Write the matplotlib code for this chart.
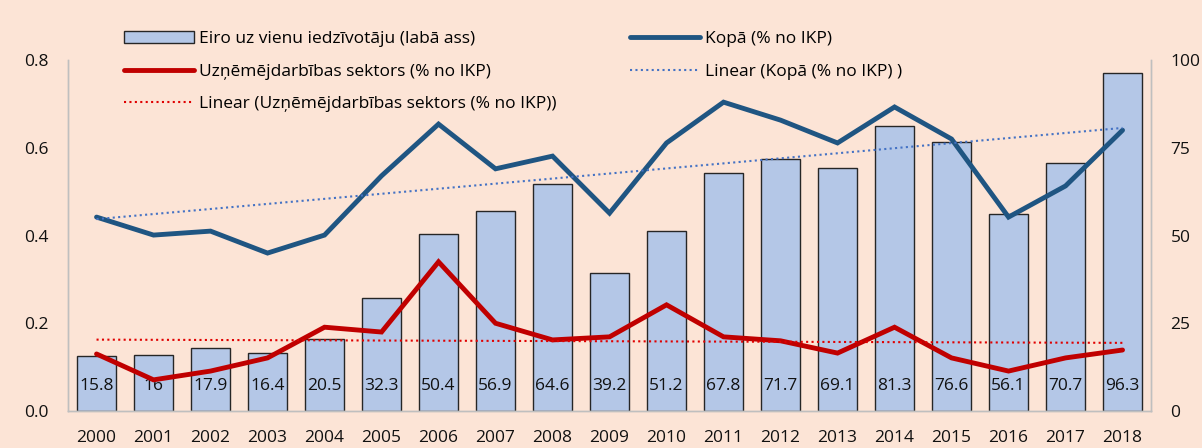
import matplotlib.pyplot as plt
import numpy as np

plt.rcParams["font.family"] = ["Open Sans", "DejaVu Sans"]

YEARS = list(range(2000, 2019))
EUR_PER_CAPITA = [15.8, 16, 17.9, 16.4, 20.5, 32.3, 50.4, 56.9, 64.6, 39.2,
                  51.2, 67.8, 71.7, 69.1, 81.3, 76.6, 56.1, 70.7, 96.3]
TOTAL_GDP = [0.442, 0.401, 0.410, 0.360, 0.401, 0.536, 0.654, 0.552, 0.581, 0.451,
             0.611, 0.704, 0.663, 0.611, 0.693, 0.620, 0.442, 0.513, 0.640]
BUSINESS_GDP = [0.130, 0.071, 0.091, 0.121, 0.191, 0.180, 0.340, 0.200, 0.162, 0.169,
                0.242, 0.169, 0.160, 0.132, 0.191, 0.121, 0.091, 0.121, 0.139]

BG = "#FCE4D6"
BAR_FILL = "#B4C7E7"
BLUE = "#1F5582"
RED = "#C00000"
BLUE_TREND = "#4472C4"
RED_TREND = "#E00000"


def main():
    fig = plt.figure(figsize=(12.02, 4.48), dpi=100, facecolor=BG)
    ax = fig.add_axes([0.0566, 0.0826, 0.9010, 0.7834])
    ax2 = ax.twinx()
    ax.set_zorder(ax2.get_zorder() + 1)
    ax.patch.set_visible(False)
    ax2.set_facecolor(BG)

    x = np.arange(len(YEARS))

    bars = ax2.bar(x, EUR_PER_CAPITA, width=0.67, color=BAR_FILL,
                   edgecolor="#262626", linewidth=1.0,
                   label="Eiro uz vienu iedzīvotāju (labā ass)")
    for xi, v in zip(x, EUR_PER_CAPITA):
        ax2.text(xi, 7.0, f"{v:g}", ha="center", va="center", fontsize=12.5,
                 color="#111111")

    red_line, = ax.plot(x, BUSINESS_GDP, color=RED, linewidth=3.5,
                        solid_capstyle="round", solid_joinstyle="miter",
                        label="Uzņēmējdarbības sektors (% no IKP)")
    blue_line, = ax.plot(x, TOTAL_GDP, color=BLUE, linewidth=3.5,
                         solid_capstyle="round", solid_joinstyle="miter",
                         label="Kopā (% no IKP)")

    k_r, b_r = np.polyfit(x, BUSINESS_GDP, 1)
    k_b, b_b = np.polyfit(x, TOTAL_GDP, 1)
    red_trend, = ax.plot(x, k_r * x + b_r, color=RED_TREND, linewidth=1.5,
                         linestyle=(0, (1, 1.6)),
                         label="Linear (Uzņēmējdarbības sektors (% no IKP))")
    blue_trend, = ax.plot(x, k_b * x + b_b, color=BLUE_TREND, linewidth=1.5,
                          linestyle=(0, (1, 1.6)),
                          label="Linear (Kopā (% no IKP) )")

    ax.set_xlim(-0.5, len(YEARS) - 0.5)
    ax.set_ylim(0, 0.8)
    ax2.set_ylim(0, 100)
    ax.set_yticks([0, 0.2, 0.4, 0.6, 0.8])
    ax.set_yticklabels(["0.0", "0.2", "0.4", "0.6", "0.8"])
    ax2.set_yticks([0, 25, 50, 75, 100])
    ax.set_xticks(x)
    ax.set_xticklabels([str(y) for y in YEARS])

    for a in (ax, ax2):
        a.tick_params(length=0, labelsize=12.5, colors="#111111")
        a.spines["top"].set_visible(False)
        for s in ("left", "right", "bottom"):
            a.spines[s].set_color("#BFBFBF")
            a.spines[s].set_linewidth(1.0)
    ax.tick_params(axis="y", pad=14)
    ax2.tick_params(axis="y", pad=14)
    ax.tick_params(axis="x", pad=14)

    handles = [bars, red_line, red_trend, blue_line, blue_trend]
    fig.legend(handles=handles, labels=[h.get_label() for h in handles],
               ncol=2, loc="upper left", bbox_to_anchor=(0.0905, 0.966),
               frameon=False, fontsize=12.5, handlelength=4.0,
               handletextpad=0.3, columnspacing=4.25, labelspacing=0.95)

    fig.savefig("out.png", dpi=100, facecolor=BG)


if __name__ == "__main__":
    main()
